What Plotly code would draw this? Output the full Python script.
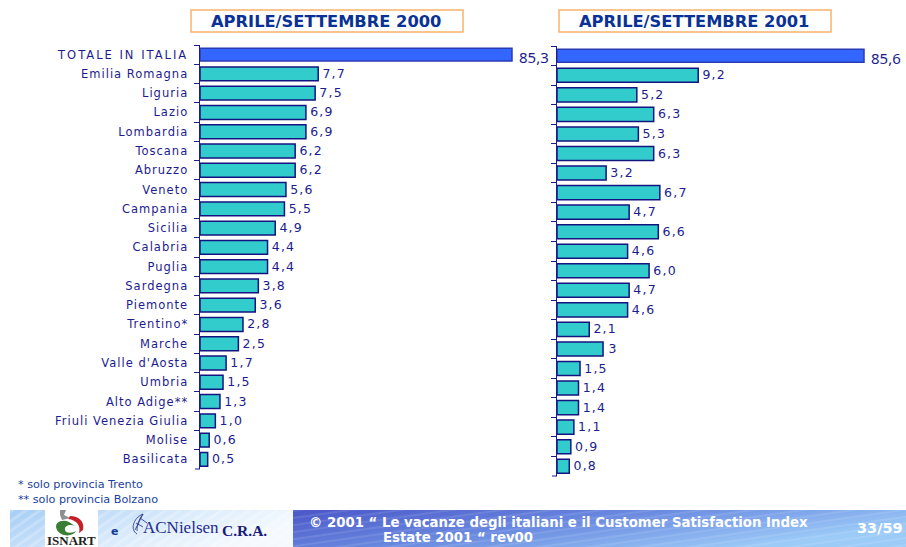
import base64
import plotly.graph_objects as go

W, H = 906, 547

regions = ["TOTALE IN ITALIA", "Emilia Romagna", "Liguria", "Lazio", "Lombardia", "Toscana", "Abruzzo",
           "Veneto", "Campania", "Sicilia", "Calabria", "Puglia", "Sardegna", "Piemonte", "Trentino*",
           "Marche", "Valle d'Aosta", "Umbria", "Alto Adige**", "Friuli Venezia Giulia", "Molise", "Basilicata"]
total_2000 = [85.3]
values_2000 = [7.7, 7.5, 6.9, 6.9, 6.2, 6.2, 5.6, 5.5, 4.9, 4.4, 4.4, 3.8, 3.6, 2.8, 2.5, 1.7, 1.5, 1.3, 1.0, 0.6, 0.5]
labels_2000 = ["7,7", "7,5", "6,9", "6,9", "6,2", "6,2", "5,6", "5,5", "4,9", "4,4", "4,4", "3,8", "3,6", "2,8",
               "2,5", "1,7", "1,5", "1,3", "1,0", "0,6", "0,5"]
total_2001 = [85.6]
values_2001 = [9.2, 5.2, 6.3, 5.3, 6.3, 3.2, 6.7, 4.7, 6.6, 4.6, 6.0, 4.7, 4.6, 2.1, 3.0, 1.5, 1.4, 1.4, 1.1, 0.9, 0.8]
labels_2001 = ["9,2", "5,2", "6,3", "5,3", "6,3", "3,2", "6,7", "4,7", "6,6", "4,6", "6,0", "4,7", "4,6", "2,1",
               "3", "1,5", "1,4", "1,4", "1,1", "0,9", "0,8"]

NAVY = "#1c1c8e"
TEAL = "#33cccc"
BLUE = "#3366ff"
SANS = "Noto Sans, DejaVu Sans, sans-serif"
LABEL = "DejaVu Sans, sans-serif"


def px(x):
    return x / W


def py(y):
    return 1 - y / H


def svg_uri(body, w, h):
    s = f'<svg xmlns="http://www.w3.org/2000/svg" width="{w}" height="{h}" viewBox="0 0 {w} {h}" preserveAspectRatio="none">{body}</svg>'
    return "data:image/svg+xml;base64," + base64.b64encode(s.encode()).decode()


left_band = svg_uri(
    '<defs><linearGradient id="g" x1="0" y1="0" x2="1" y2="0.35">'
    '<stop offset="0" stop-color="#a5cdf5"/><stop offset="0.6" stop-color="#dcecfb"/>'
    '<stop offset="1" stop-color="#f4f9fe"/></linearGradient>'
    '<pattern id="p" width="8" height="8" patternUnits="userSpaceOnUse" patternTransform="rotate(-35)">'
    '<rect width="8" height="3" fill="#ffffff" opacity="0.22"/></pattern></defs>'
    '<rect width="283" height="37" fill="url(#g)"/><rect width="283" height="37" fill="url(#p)"/>', 283, 37)
right_band = svg_uri(
    '<defs><linearGradient id="g" x1="0" y1="0" x2="1" y2="0.45">'
    '<stop offset="0" stop-color="#4a56c8"/><stop offset="0.5" stop-color="#6a8ae0"/>'
    '<stop offset="1" stop-color="#9ccbf8"/></linearGradient>'
    '<pattern id="p" width="22" height="7" patternUnits="userSpaceOnUse" patternTransform="rotate(-8)">'
    '<rect width="22" height="2" fill="#ffffff" opacity="0.10"/></pattern></defs>'
    '<rect width="613" height="37" fill="url(#g)"/><rect width="613" height="37" fill="url(#p)"/>', 613, 37)
isnart = svg_uri(
    '<rect width="53" height="37" fill="#ffffff"/>'
    '<path d="M12 20 C8 12 18 9 24 12 L30 16 C26 14 19 15 20 20 C21 24 28 23 31 21 C28 27 16 27 12 20Z" fill="#3a7d34"/>'
    '<path d="M25 6 C34 6 40 12 38 20 L34 23 C36 16 32 10 23 9Z" fill="#c4202a"/>'
    '<path d="M15 0 L21 0 L19 5 L25 8 L17 10 L15 5Z" fill="#8f8f8f"/>', 53, 37)
acn_arc = svg_uri(
    '<g fill="none" stroke="#1f2a8c" stroke-width="0.8">'
    '<path d="M12 1 C2 5 -1 17 6 21"/><path d="M12 1 C8 6 6 12 6 18"/>'
    '<path d="M12 1 L4 17"/><path d="M9 5 L16 10"/><path d="M5 10 L12 14"/></g>', 18, 23)

images = [
    dict(source=left_band, x=px(10), y=py(510), sizex=283 / W, sizey=37 / H),
    dict(source=right_band, x=px(293), y=py(510), sizex=613 / W, sizey=37 / H),
    dict(source=isnart, x=px(45), y=py(510), sizex=53 / W, sizey=37 / H),
    dict(source=acn_arc, x=px(131), y=py(513), sizex=18 / W, sizey=23 / H),
]
for im in images:
    im.update(xref="paper", yref="paper", xanchor="left", yanchor="top", sizing="stretch", layer="below")

fig = go.Figure()
small_px = 15.35


def panel(total, vals, labs, total_label, xa, xa_top, ya):
    fig.add_trace(go.Bar(x=vals, y=regions[1:], orientation="h", width=0.72, text=labs,
                         textposition="outside", cliponaxis=False, constraintext="none", xaxis=xa, yaxis=ya,
                         marker=dict(color=TEAL, line=dict(color="#141480", width=1.5)),
                         textfont=dict(family=LABEL, size=12.5, color=NAVY), showlegend=False))
    fig.add_trace(go.Bar(x=total, y=regions[:1], orientation="h", width=0.66, text=[total_label],
                         textposition="outside", cliponaxis=False, constraintext="none", xaxis=xa_top, yaxis=ya,
                         marker=dict(color=BLUE, line=dict(color="#2a3cb4", width=1.5)),
                         textfont=dict(family=SANS, size=15, color=NAVY), showlegend=False))


panel(total_2000, values_2000, labels_2000, "85,3", "x", "x3", "y")
panel(total_2001, values_2001, labels_2001, "85,6", "x2", "x4", "y2")

L0, L1 = 200, 540
R0, R1 = 557, 895
hidden = dict(visible=False, fixedrange=True)
layout = dict(
    width=W, height=H, autosize=False, margin=dict(l=0, r=0, t=0, b=0, pad=0),
    paper_bgcolor="white", plot_bgcolor="white", barmode="overlay", showlegend=False,
    font=dict(family=LABEL, color=NAVY),
    images=images,
    xaxis=dict(domain=[px(L0), px(L1)], range=[0, (L1 - L0) / small_px], anchor="y", **hidden),
    xaxis3=dict(domain=[px(L0), px(L1)], range=[0, 85.3 * (L1 - L0) / 312], anchor="y", overlaying="x", **hidden),
    xaxis2=dict(domain=[px(R0), px(R1)], range=[0, (R1 - R0) / small_px], anchor="y2", **hidden),
    xaxis4=dict(domain=[px(R0), px(R1)], range=[0, 85.6 * (R1 - R0) / 307], anchor="y2", overlaying="x2", **hidden),
)
axis_common = dict(type="category", categoryorder="array", categoryarray=regions, autorange=False,
                   range=[21.5, -0.5], showgrid=False, zeroline=False, showline=True, linecolor=NAVY, linewidth=1.5,
                   ticks="outside", ticklen=5, tickcolor=NAVY, tickwidth=1, tickson="boundaries")
layout["yaxis"] = dict(domain=[py(469), py(45)], anchor="x", showticklabels=True, ticklabelstandoff=8,
                       tickfont=dict(family=LABEL, size=11.5, color=NAVY), **axis_common)
layout["yaxis2"] = dict(domain=[py(476), py(46)], anchor="x2", showticklabels=False, **axis_common)

shapes = []
for x0, x1 in ((191, 463), (559, 831)):
    shapes.append(dict(type="rect", xref="paper", yref="paper", x0=px(x0), x1=px(x1), y0=py(32), y1=py(10),
                       line=dict(color="#f9b26a", width=1.5), fillcolor="white", layer="below"))
for x0, x1, y in ((195, 200, 469), (552, 557, 476)):
    shapes.append(dict(type="line", xref="paper", yref="paper", x0=px(x0), x1=px(x1), y0=py(y), y1=py(y),
                       line=dict(color=NAVY, width=1)))
layout["shapes"] = shapes


def note(text, x, y, size, color, family=SANS, bold=False, anchor="left"):
    t = f"<b>{text}</b>" if bold else text
    return dict(text=t, x=px(x), y=py(y), xref="paper", yref="paper", showarrow=False,
                xanchor=anchor, yanchor="middle", font=dict(family=family, size=size, color=color))


TITLE = "#0a3296"
SERIF = "Liberation Serif, serif"
layout["annotations"] = [
    note("APRILE/SETTEMBRE 2000", 326, 21.5, 16.3, TITLE, family=LABEL, bold=True, anchor="center"),
    note("APRILE/SETTEMBRE 2001", 694, 21.5, 16.3, TITLE, family=LABEL, bold=True, anchor="center"),
    note("* solo provincia Trento", 16, 484.5, 11.2, "#1a3f9c", family=LABEL),
    note("** solo provincia Bolzano", 16, 499.5, 11.2, "#1a3f9c", family=LABEL),
    note("ISNART", 71.5, 540, 13, "#222222", family=SERIF, bold=True, anchor="center"),
    note("e", 114, 531, 11, "#123c96", family=LABEL, bold=True, anchor="center"),
    note("ACNielsen", 141, 527, 17, "#1f2a8c", family=SERIF),
    note("C.R.A.", 220, 530, 15.5, "#1a1a7a", family=SERIF, bold=True),
    note("© 2001 “ Le vacanze degli italiani e il Customer Satisfaction Index", 307, 522, 13.3, "#ffffff", family=LABEL, bold=True),
    note("Estate 2001 “ rev00", 381, 537.5, 13.3, "#ffffff", family=LABEL, bold=True),
    note("33/59", 855, 528, 14.5, "#ffffff", family=LABEL, bold=True),
]
fig.update_layout(**layout)
post = """
document.body.style.margin='0';
document.documentElement.style.overflow='hidden';
document.querySelectorAll('.ytick text').forEach(function(t){
  t.style.letterSpacing = t.textContent === t.textContent.toUpperCase() ? '2px' : '1px';
});
document.querySelectorAll('.bartext').forEach(function(t){
  if (t.textContent.indexOf('85') !== 0) {
    t.style.letterSpacing = '1.2px';
    t.setAttribute('dx', '3');
    t.setAttribute('dy', '-0.5');
  } else {
    t.setAttribute('dx', '4');
    t.setAttribute('dy', '2');
  }
});
"""
fig.write_html("out.html", config={"displayModeBar": False, "staticPlot": True}, post_script=post)
